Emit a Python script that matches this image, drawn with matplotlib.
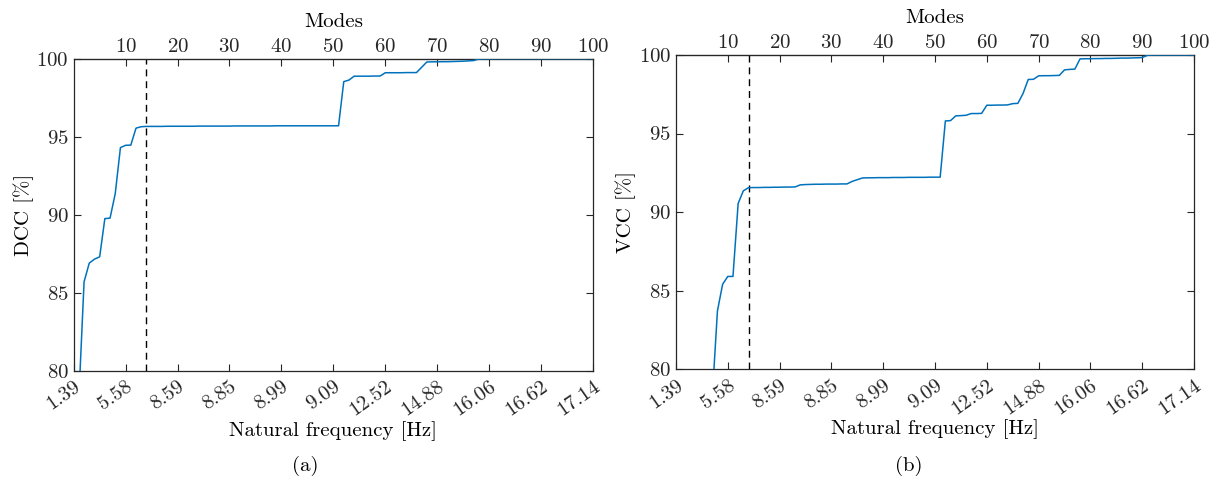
import numpy as np
import matplotlib
matplotlib.use("Agg")
import matplotlib.pyplot as plt

plt.rcParams['font.family'] = ['cmr10', 'DejaVu Serif']
plt.rcParams['axes.formatter.use_mathtext'] = True
plt.rcParams['font.size'] = 15

# mode index and cumulative participation (percent)
modes = np.arange(1, 101)

dcc = [78.3, 85.7, 86.9, 87.15, 87.3, 89.75, 89.78, 91.35, 94.3, 94.45,
       94.46, 95.55, 95.64, 95.66, 95.66, 95.66, 95.66, 95.67, 95.67, 95.67,
       95.67, 95.67, 95.67, 95.68, 95.68, 95.68, 95.68, 95.68, 95.68, 95.68,
       95.69, 95.69, 95.69, 95.69, 95.69, 95.69, 95.69, 95.69, 95.70, 95.70,
       95.70, 95.70, 95.70, 95.70, 95.70, 95.70, 95.70, 95.70, 95.70, 95.70,
       95.70, 98.53, 98.63, 98.88, 98.88, 98.88, 98.88, 98.89, 98.89, 99.10,
       99.10, 99.10, 99.10, 99.11, 99.11, 99.11, 99.45, 99.79, 99.80, 99.80,
       99.81, 99.81, 99.82, 99.83, 99.84, 99.86, 99.88, 99.98, 99.99, 99.99,
       100.0, 100.0, 100.0, 100.0, 100.0, 100.0, 100.0, 100.0, 100.0, 100.0,
       100.0, 100.0, 100.0, 100.0, 100.0, 100.0, 100.0, 100.0, 100.0, 100.0]

vcc = [np.nan, np.nan, np.nan, np.nan, np.nan, np.nan, 78.2, 83.7, 85.4, 85.9,
       85.9, 90.55, 91.35, 91.55, 91.56, 91.56, 91.57, 91.57, 91.58, 91.58,
       91.59, 91.59, 91.60, 91.73, 91.75, 91.76, 91.77, 91.77, 91.78, 91.78,
       91.78, 91.79, 91.79, 91.95, 92.06, 92.17, 92.18, 92.18, 92.19, 92.19,
       92.19, 92.20, 92.20, 92.20, 92.21, 92.21, 92.21, 92.21, 92.22, 92.22,
       92.22, 95.80, 95.82, 96.12, 96.14, 96.16, 96.27, 96.27, 96.28, 96.80,
       96.80, 96.81, 96.81, 96.82, 96.90, 96.92, 97.55, 98.44, 98.45, 98.67,
       98.68, 98.68, 98.69, 98.70, 99.05, 99.08, 99.10, 99.75, 99.76, 99.76,
       99.77, 99.77, 99.78, 99.78, 99.79, 99.80, 99.80, 99.81, 99.82, 99.83,
       99.98, 100.0, 100.0, 100.0, 100.0, 100.0, 100.0, 100.0, 100.0, 100.0]

freq_labels = ['1.39', '5.58', '8.59', '8.85', '8.99', '9.09',
               '12.52', '14.88', '16.06', '16.62', '17.14']
freq_ticks = np.arange(0, 101, 10)
mode_ticks = np.arange(10, 101, 10)
cutoff_mode = 14

panels = [
    (dcc, 'DCC [%]', '(a)', [0.0605, 0.2277, 0.4264, 0.650], 0.2505),
    (vcc, 'VCC [%]', '(b)', [0.555, 0.2310, 0.4253, 0.6545], 0.7463),
]

fig = plt.figure(figsize=(12.18, 4.8), dpi=100)

for values, ylab, tag, rect, tag_x in panels:
    ax = fig.add_axes(rect)
    ax.plot(modes, values, color='#0072BD', lw=1.1, zorder=3)
    ax.axvline(cutoff_mode, color='black', lw=1.0, ls=(0, (5, 3.5)))
    ax.set_xlim(0, 100)
    ax.set_ylim(80, 100)
    ax.set_yticks([80, 85, 90, 95, 100])
    ax.set_xticks(freq_ticks)
    ax.set_xticklabels(freq_labels, rotation=35, ha='right', va='top',
                       rotation_mode='anchor')
    ax.set_xlabel('Natural frequency [Hz]', labelpad=1)
    ax.set_ylabel(ylab, labelpad=2)
    ax.tick_params(direction='in', length=5, width=0.8, colors='#262626',
                   right=True, top=False, labelsize=15)
    ax.tick_params(axis='x', pad=5)
    for s in ax.spines.values():
        s.set_color('#262626')
        s.set_linewidth(0.9)

    top = ax.secondary_xaxis('top')
    top.set_xticks(mode_ticks)
    top.tick_params(direction='in', length=5, width=0.8, colors='#262626',
                    labelsize=15, pad=2)
    top.set_xlabel('Modes', labelpad=8)

    fig.text(tag_x, 0.008, tag, ha='center', va='bottom', fontsize=15)

fig.savefig('out.png', dpi=100)
